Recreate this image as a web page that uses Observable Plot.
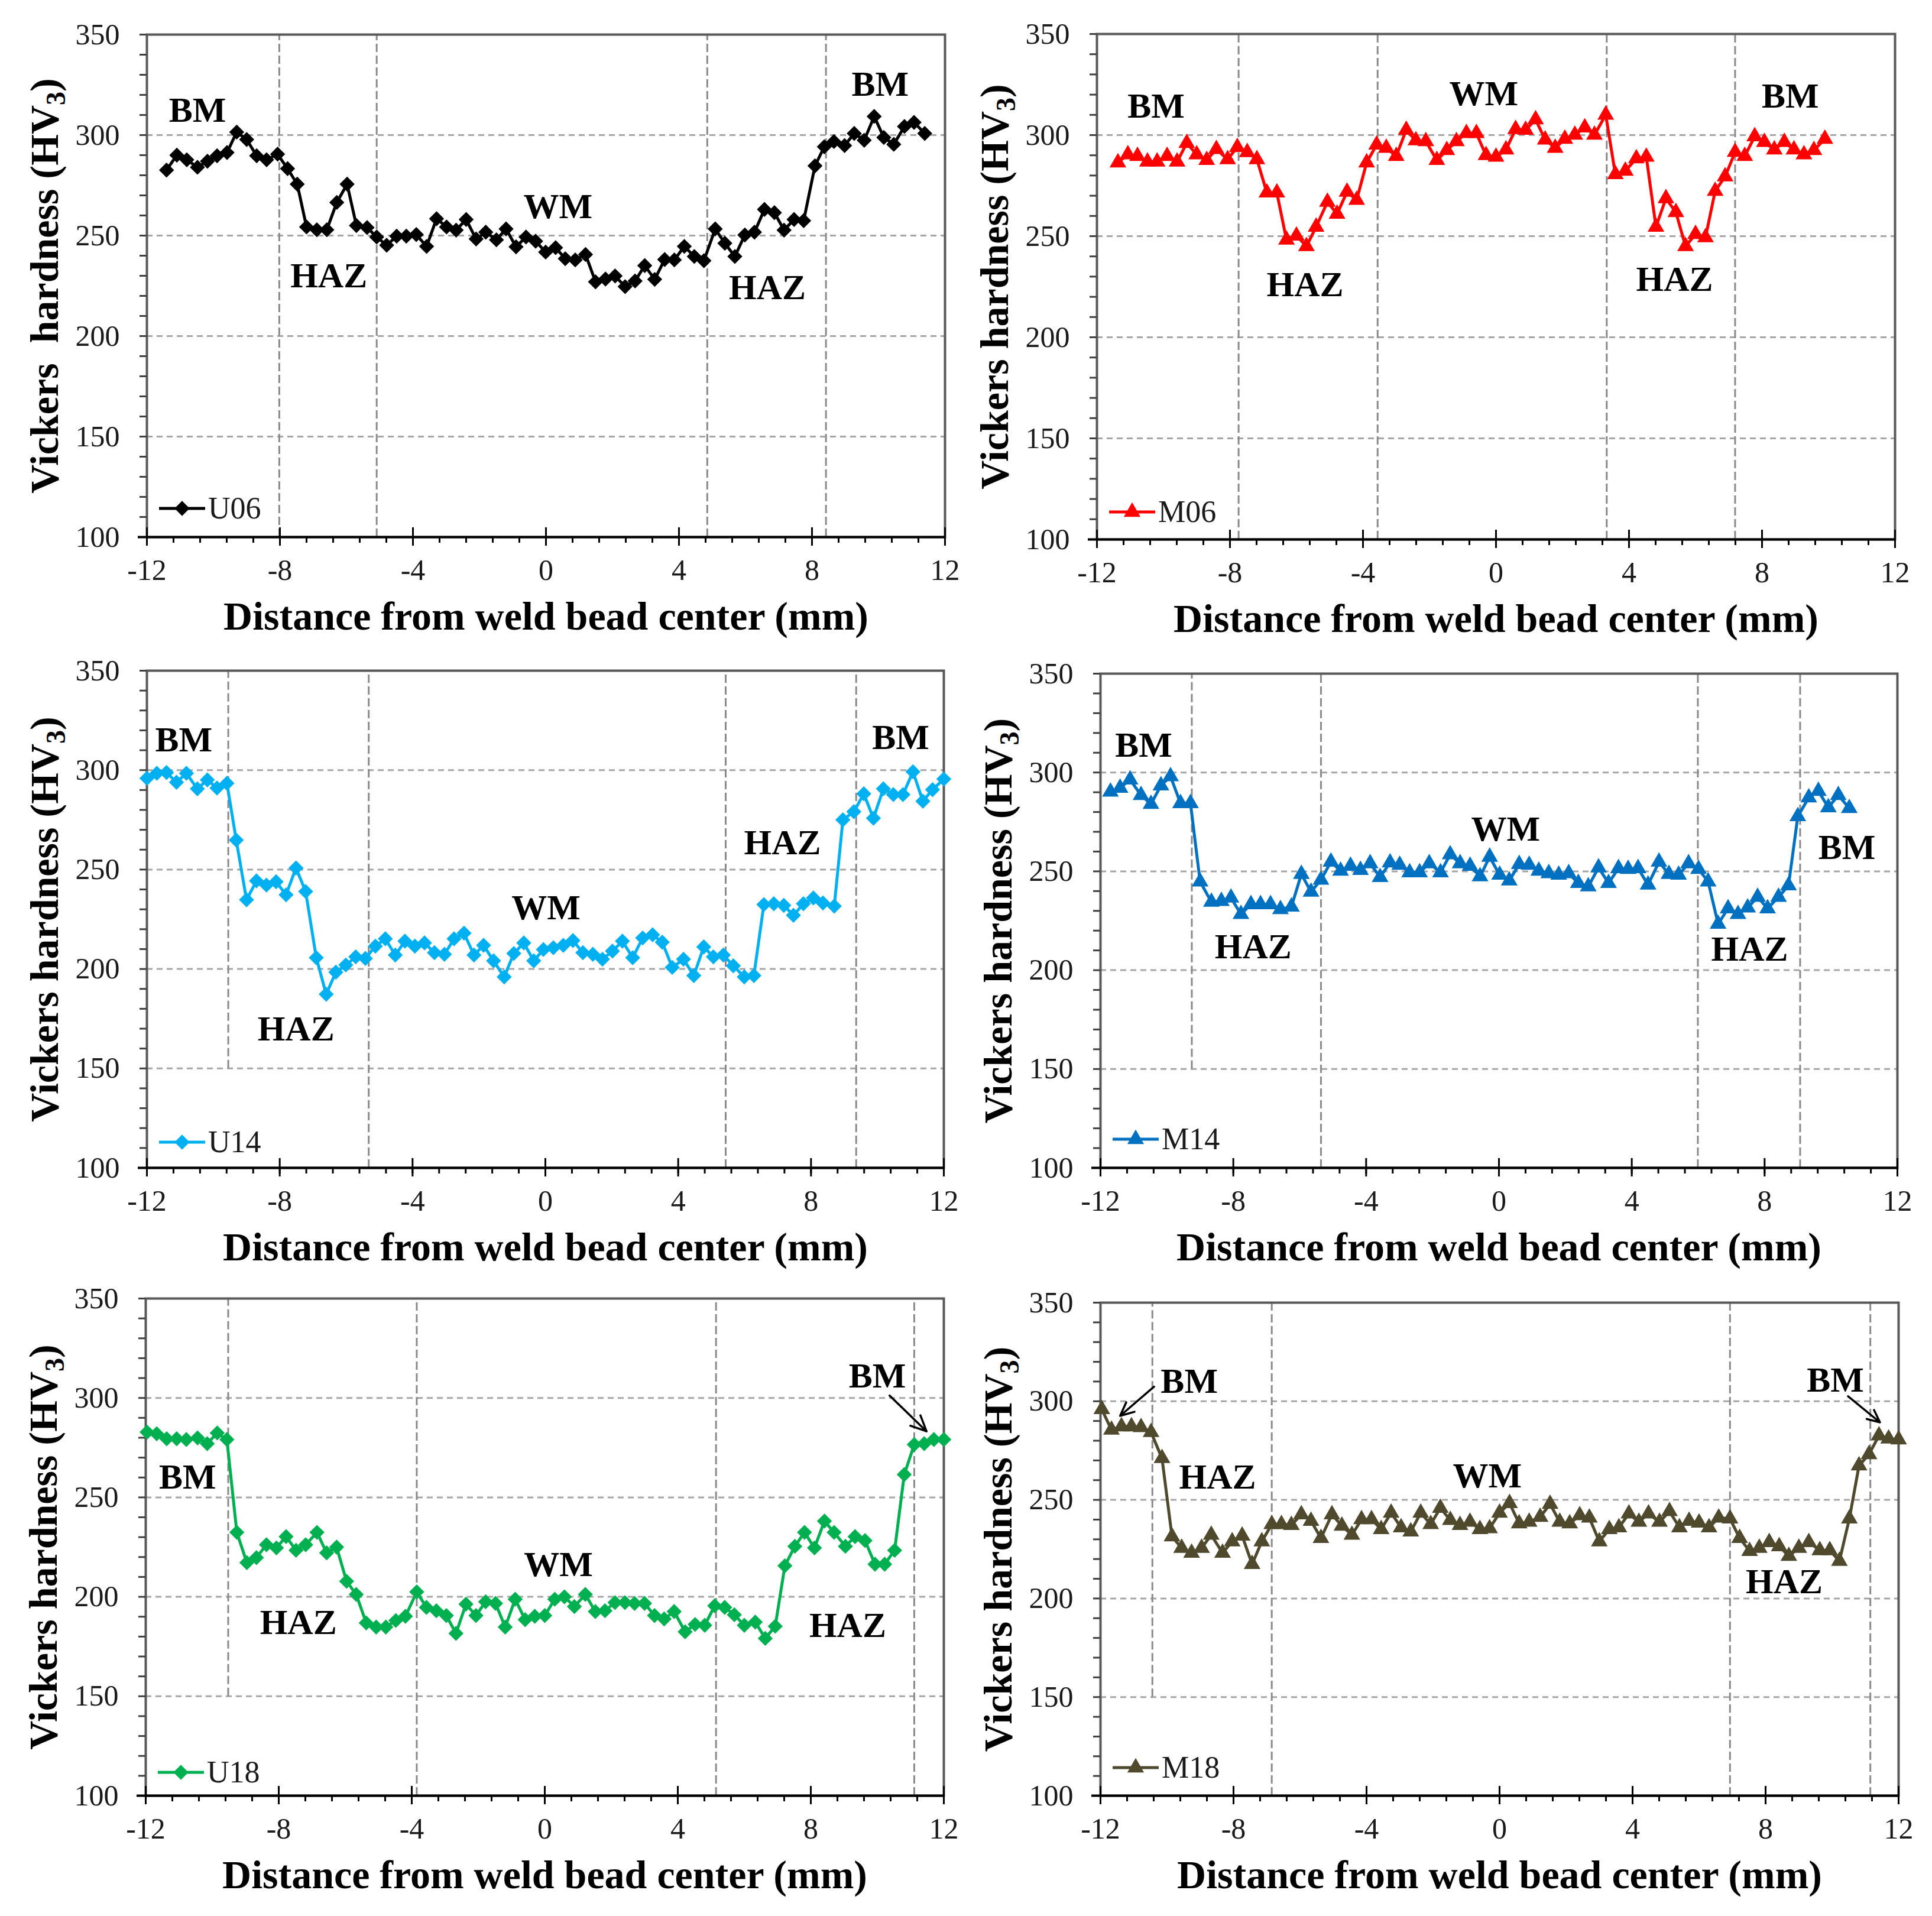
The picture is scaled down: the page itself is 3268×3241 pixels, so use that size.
<!DOCTYPE html>
<html>
<head>
<meta charset="utf-8">
<script src="https://cdn.jsdelivr.net/npm/d3@7"></script>
<script src="https://cdn.jsdelivr.net/npm/@observablehq/plot@0.6"></script>
<style>
html, body { margin: 0; padding: 0; background: #fff; }
#page { position: relative; width: 3268px; height: 3241px; overflow: hidden; background: #fff; }
.panel { position: absolute; }
</style>
</head>
<body>
<div id="page"></div>
<script>
// ---------------- data ----------------
const xMajorTicks = [-12, -8, -4, 0, 4, 8, 12];
const yMajorTicks = [100, 150, 200, 250, 300, 350];
const yGridLines = [150, 200, 250, 300];
const xTitle = "Distance from weld bead center (mm)";

const u06Points = [[-11.41,282.6],[-11.1,290],[-10.8,287.7],[-10.48,284],[-10.18,287],[-9.89,289.7],[-9.59,291.3],[-9.3,301.5],[-9.0,297.8],[-8.7,289.7],[-8.4,287.7],[-8.07,290.5],[-7.77,283.3],[-7.48,275.6],[-7.2,254.3],[-6.89,252.9],[-6.59,252.9],[-6.29,266.5],[-5.98,275.6],[-5.7,255],[-5.38,254],[-5.09,249.3],[-4.79,245.2],[-4.49,249.7],[-4.2,249.7],[-3.9,250.5],[-3.59,244.6],[-3.29,258.4],[-2.99,254.3],[-2.7,252.7],[-2.4,258],[-2.1,248.3],[-1.81,251.7],[-1.49,247.9],[-1.2,253.3],[-0.9,244.4],[-0.6,249.3],[-0.31,247.2],[-0.01,241.8],[0.29,244],[0.58,238.5],[0.88,237.9],[1.19,240.6],[1.49,227],[1.79,228.4],[2.08,229.9],[2.38,224.6],[2.68,227.4],[2.97,235.1],[3.27,228.2],[3.57,238.1],[3.86,237.9],[4.16,244.6],[4.46,239.6],[4.75,237.5],[5.09,253.3],[5.38,246.2],[5.68,239.6],[5.98,250.3],[6.27,251.7],[6.57,263],[6.87,261.4],[7.16,252.7],[7.46,258],[7.75,257.4],[8.09,284.7],[8.37,294.2],[8.66,296.8],[8.98,294.8],[9.27,300.8],[9.57,297.4],[9.87,309.3],[10.16,298.8],[10.46,295.4],[10.78,304.3],[11.07,306.3],[11.39,300.8]];
const m06Points = [[-11.37,286.4],[-11.07,290.4],[-10.78,289.6],[-10.48,286.8],[-10.19,286.8],[-9.89,289.6],[-9.59,286.8],[-9.3,296],[-9.0,290.4],[-8.7,287.6],[-8.41,293],[-8.07,288],[-7.78,294],[-7.48,291.5],[-7.19,288],[-6.89,271.5],[-6.59,271.5],[-6.3,248.2],[-6.0,250.2],[-5.7,245],[-5.41,254.6],[-5.07,266.9],[-4.78,261],[-4.48,271.9],[-4.19,267.9],[-3.89,286.4],[-3.59,295.2],[-3.3,293.6],[-3.0,289.6],[-2.7,302.5],[-2.41,297.3],[-2.11,296.9],[-1.78,287.6],[-1.48,292.5],[-1.19,296.9],[-0.89,300.9],[-0.59,300.9],[-0.3,290],[0.0,289.2],[0.3,292.8],[0.59,302.9],[0.89,302.5],[1.19,307.7],[1.48,297.7],[1.78,293.6],[2.07,298.1],[2.37,300.1],[2.67,303.7],[2.96,300.1],[3.3,310],[3.59,280.6],[3.89,282.3],[4.22,288.4],[4.52,289.2],[4.81,254.6],[5.11,268.7],[5.41,261.8],[5.7,245],[6.0,251],[6.3,249.4],[6.59,272.3],[6.89,279.5],[7.19,291.6],[7.48,289.6],[7.78,299.3],[8.07,296.5],[8.37,292.8],[8.67,296.5],[8.96,292.8],[9.26,290.4],[9.56,292.5],[9.89,298.1]];
const u14Points = [[-12.0,295.9],[-11.7,298.4],[-11.41,298.8],[-11.11,293.9],[-10.81,298.4],[-10.48,290.6],[-10.18,295.1],[-9.89,291],[-9.59,293.4],[-9.31,264.8],[-9.0,234.8],[-8.7,244.3],[-8.4,242.2],[-8.11,243.9],[-7.81,237.3],[-7.51,250.8],[-7.22,239],[-6.9,205.7],[-6.6,187.3],[-6.31,198.4],[-6.01,202],[-5.71,206.1],[-5.42,205.3],[-5.12,211.5],[-4.82,215.2],[-4.52,207],[-4.23,214],[-3.93,211.5],[-3.64,213.1],[-3.34,208.2],[-3.04,207.4],[-2.75,215.2],[-2.45,218],[-2.15,207],[-1.86,211.9],[-1.56,204.1],[-1.24,196],[-0.95,207.8],[-0.65,213.1],[-0.35,204.1],[-0.06,209.8],[0.24,210.7],[0.54,211.9],[0.83,214.3],[1.13,208.2],[1.43,207.4],[1.72,204.9],[2.02,209],[2.32,214],[2.63,205.7],[2.93,215.6],[3.23,217.2],[3.52,213.5],[3.82,200.8],[4.16,204.9],[4.47,196.7],[4.77,211.1],[5.06,206.1],[5.36,207],[5.66,201.6],[5.99,196],[6.28,196.7],[6.58,232.4],[6.88,232.8],[7.18,232],[7.47,227],[7.77,232.8],[8.07,235.7],[8.36,233.2],[8.7,231.6],[8.96,275],[9.29,279.1],[9.59,288.1],[9.88,275.8],[10.18,290.6],[10.48,287.7],[10.77,287.7],[11.07,299.2],[11.37,284.4],[11.66,290.2],[12.0,295.5]];
const m14Points = [[-11.7,290.2],[-11.41,292.2],[-11.11,296.4],[-10.78,288.5],[-10.48,284],[-10.18,293.4],[-9.89,298],[-9.59,284.4],[-9.29,284.4],[-9.0,244.8],[-8.66,234.5],[-8.36,234.9],[-8.07,236.6],[-7.77,228.3],[-7.47,233.3],[-7.18,233.3],[-6.88,233.3],[-6.58,230.8],[-6.25,232.1],[-5.95,248.6],[-5.66,239.6],[-5.36,245.7],[-5.06,254.8],[-4.77,250.2],[-4.47,252.7],[-4.17,250.6],[-3.88,254],[-3.58,247],[-3.28,254.4],[-2.99,253.2],[-2.69,249.4],[-2.39,249.4],[-2.1,254],[-1.76,249.4],[-1.47,258.5],[-1.17,254],[-0.87,252.7],[-0.57,247.4],[-0.28,257.3],[0.02,248.2],[0.31,245.3],[0.61,253.6],[0.91,253.2],[1.2,250.2],[1.5,249],[1.8,248.2],[2.1,249],[2.39,244],[2.69,242.3],[3.0,251.9],[3.3,244],[3.6,251.5],[3.89,251.1],[4.19,251.5],[4.49,243.2],[4.82,254.8],[5.12,248.6],[5.41,248.2],[5.71,254],[6.01,251.1],[6.3,244.8],[6.6,223.4],[6.9,231.2],[7.2,228.3],[7.49,231.6],[7.79,237],[8.09,231.2],[8.42,237],[8.72,242.8],[9.0,277.8],[9.33,287.3],[9.62,290.6],[9.92,282.3],[10.22,288.5],[10.55,281.9]];
const u18Points = [[-11.96,282.8],[-11.67,282],[-11.37,279.5],[-11.07,279.5],[-10.78,279.1],[-10.44,279.9],[-10.15,277],[-9.85,282.4],[-9.56,279.1],[-9.26,232.4],[-8.96,217.2],[-8.67,219.7],[-8.37,226.2],[-8.07,224.6],[-7.78,230.3],[-7.48,223.4],[-7.19,226.2],[-6.85,232.4],[-6.56,222.1],[-6.26,225],[-5.96,207.8],[-5.67,201.2],[-5.37,186.9],[-5.07,184.8],[-4.78,184.8],[-4.48,188.1],[-4.19,190.2],[-3.85,202.5],[-3.56,194.7],[-3.26,193],[-2.96,190.6],[-2.67,181.6],[-2.37,196.3],[-2.07,190.6],[-1.78,197.5],[-1.48,196.7],[-1.19,184.8],[-0.89,198.8],[-0.59,188.5],[-0.3,190.2],[0.0,190.6],[0.3,198.8],[0.59,200],[0.89,195.1],[1.22,201.2],[1.52,192.6],[1.81,193],[2.11,197.1],[2.41,197.1],[2.7,196.7],[3.0,196.7],[3.3,190.6],[3.59,188.9],[3.89,192.6],[4.22,182.4],[4.52,186.1],[4.81,185.7],[5.11,195.5],[5.41,194.7],[5.7,191],[6.0,185.7],[6.33,187.3],[6.63,179.1],[6.93,185.2],[7.22,215.6],[7.52,225.4],[7.81,232.4],[8.11,224.6],[8.41,238.1],[8.7,232.4],[9.04,225.4],[9.33,230.3],[9.63,228.3],[9.93,216.4],[10.22,216.4],[10.52,223.4],[10.81,261.5],[11.11,276.6],[11.41,277],[11.7,279.1],[12.0,279.1]];
const m18Points = [[-11.96,295.9],[-11.67,285.5],[-11.37,287.2],[-11.07,287.2],[-10.78,286.8],[-10.48,284.3],[-10.15,271.1],[-9.85,231.4],[-9.56,225.6],[-9.26,223.1],[-8.96,225.6],[-8.67,232.2],[-8.33,223.1],[-8.04,228.9],[-7.74,231.8],[-7.44,217.4],[-7.15,228.9],[-6.85,237.6],[-6.56,237.6],[-6.26,237.2],[-5.96,242.6],[-5.67,239.3],[-5.37,230.6],[-5.04,242.6],[-4.74,236.8],[-4.44,232.2],[-4.15,240.1],[-3.85,240.1],[-3.56,235.1],[-3.26,243.4],[-2.96,236],[-2.67,233.9],[-2.37,243.4],[-2.07,237.6],[-1.78,245.9],[-1.48,239.7],[-1.19,237.2],[-0.89,238.8],[-0.59,235.1],[-0.3,235.5],[0.0,243.4],[0.3,248.3],[0.59,238],[0.89,238.8],[1.22,241.3],[1.52,247.9],[1.81,238.8],[2.11,238],[2.41,242.1],[2.7,240.9],[3.0,228.9],[3.3,235.1],[3.59,236],[3.89,243],[4.19,238.8],[4.48,243],[4.81,238.8],[5.11,244.2],[5.41,236],[5.7,239.3],[6.0,238.4],[6.3,236],[6.59,240.9],[6.93,240.5],[7.22,230.6],[7.52,224],[7.81,225.6],[8.11,228.5],[8.41,226.4],[8.7,221.5],[9.0,225.6],[9.3,228.5],[9.63,224.4],[9.93,224.4],[10.22,219],[10.52,240.5],[10.81,267.4],[11.11,273.1],[11.41,282.6],[11.7,281],[12.0,280.6]];

// zone boundaries: [x, lower end of the dashed line]
const u06Zones = [[-8.02,100],[-5.09,100],[4.85,100],[8.42,100]];
const m06Zones = [[-7.74,100],[-3.56,100],[3.33,100],[7.19,100]];
const u14Zones = [[-9.55,150],[-5.32,100],[5.43,100],[9.36,100]];
const m14Zones = [[-9.25,150],[-5.36,100],[5.99,100],[9.07,100]];
const u18Zones = [[-9.52,150],[-3.85,100],[5.15,100],[11.11,100]];
const m18Zones = [[-10.44,150],[-6.85,100],[6.93,100],[11.15,100]];

// region annotations
const u06Labels = [["BM",-10.48,312.4],["HAZ",-6.53,230],["WM",0.36,264.4],["HAZ",6.66,224],["BM",10.05,325.1]];
const m06Labels = [["BM",-10.22,314.2],["HAZ",-5.74,225.8],["WM",-0.37,320.4],["HAZ",5.37,228.6],["BM",8.85,319.2]];
const u14Labels = [["BM",-10.89,315],["HAZ",-7.51,169.7],["WM",0.02,230.7],["HAZ",7.14,263.5],["BM",10.7,316.4]];
const m14Labels = [["BM",-10.7,313.7],["HAZ",-7.4,211.8],["WM",0.2,271.2],["HAZ",7.55,210.6],["BM",10.48,262.1]];
const u18Labels = [["BM",-10.74,260.2],["HAZ",-7.41,186.9],["WM",0.41,216.2],["HAZ",9.11,185.5],["BM",10.0,311]];
const m18Labels = [["BM",-9.33,309.9],["HAZ",-8.48,261.6],["WM",-0.37,262],["HAZ",8.56,208.3],["BM",10.1,310.7]];
const u18Arrows = [[10.37,301.2,11.48,283.2]];
const m18Arrows = [[-10.39,307.4,-11.41,292.6],[10.48,302.5,11.44,289.3]];

// ---------------- layout / style ----------------
const FONT = '"Liberation Serif", "Times New Roman", Times, serif';
const panels = [
  {name:"U06", points:u06Points, color:"#000000", symbol:"diamond2", zones:u06Zones, labels:u06Labels, arrows:[],
   frame:{left:248,right:1598,top:58,bottom:908}, legendUp:48, yTitle:["Vickers  hardness (HV","3",")"]},
  {name:"M06", points:m06Points, color:"#ff0000", symbol:"triangle", zones:m06Zones, labels:m06Labels, arrows:[],
   frame:{left:1855,right:3205,top:57,bottom:912}, legendUp:46, yTitle:["Vickers hardness (HV","3",")"]},
  {name:"U14", points:u14Points, color:"#00b0f0", symbol:"diamond2", zones:u14Zones, labels:u14Labels, arrows:[],
   frame:{left:248,right:1596,top:1134,bottom:1975}, legendUp:43, yTitle:["Vickers hardness (HV","3",")"]},
  {name:"M14", points:m14Points, color:"#0070c0", symbol:"triangle", zones:m14Zones, labels:m14Labels, arrows:[],
   frame:{left:1861,right:3209,top:1139,bottom:1975}, legendUp:48, yTitle:["Vickers hardness (HV","3",")"]},
  {name:"U18", points:u18Points, color:"#00b050", symbol:"diamond2", zones:u18Zones, labels:u18Labels, arrows:u18Arrows,
   frame:{left:246,right:1596,top:2196,bottom:3037}, legendUp:39, yTitle:["Vickers hardness (HV","3",")"]},
  {name:"M18", points:m18Points, color:"#4f4a2d", symbol:"triangle", zones:m18Zones, labels:m18Labels, arrows:m18Arrows,
   frame:{left:1861,right:3211,top:2203,bottom:3037}, legendUp:47, yTitle:["Vickers hardness (HV","3",")"]}
];

const markerR = sym => sym === "triangle" ? 9.5 : 10.5;
const yMinorTicks = d3.range(100, 351, 10);
const xMinorTicks = d3.range(0, 31).map(k => Math.round((-12 + k * 0.8) * 100) / 100);

function legendMark(p) {
  return (index, scales, values, dims) => {
    const g = d3.create("svg:g");
    const x0 = dims.marginLeft + 21;
    const y0 = dims.height - dims.marginBottom - p.legendUp;
    g.append("line").attr("x1", x0).attr("x2", x0 + 78).attr("y1", y0).attr("y2", y0)
      .attr("stroke", p.color).attr("stroke-width", 5);
    const sym = p.symbol === "triangle" ? d3.symbolTriangle : d3.symbolDiamond2;
    const r = markerR(p.symbol);
    g.append("path").attr("d", d3.symbol(sym, Math.PI * r * r)())
      .attr("transform", `translate(${x0 + 39},${y0})`).attr("fill", p.color).attr("stroke", p.color).attr("stroke-width", 1.5);
    g.append("text").attr("x", x0 + 83).attr("y", y0 + 17).attr("text-anchor", "start")
      .attr("font-size", 52).attr("font-family", FONT).attr("fill", "#1a1a1a").text(p.name);
    return g.node();
  };
}

function drawPanel(p) {
  const f = p.frame;
  const fw = f.right - f.left, fh = f.bottom - f.top;
  const mL = 240, mR = 30, mT = 50, mB = 200;
  const data = p.points.map(([x, y]) => ({x, y}));
  const zones = p.zones.map(([x, bottom]) => ({x, bottom, top: 350}));
  const labels = p.labels.map(([text, x, y]) => ({text, x, y}));
  const arrows = p.arrows.map(([x1, y1, x2, y2]) => ({x1, y1, x2, y2}));
  const yTitleText = p.yTitle.join("");

  const svg = Plot.plot({
    width: fw + mL + mR,
    height: fh + mT + mB,
    marginLeft: mL, marginRight: mR, marginTop: mT, marginBottom: mB,
    x: {domain: [-12, 12], label: null},
    y: {domain: [100, 350], label: null},
    style: {fontFamily: FONT, background: "transparent", maxWidth: "none", overflow: "visible"},
    marks: [
      Plot.ruleY(yGridLines, {stroke: "#a6a6a6", strokeWidth: 3, strokeDasharray: "10,7"}),
      Plot.ruleX(zones, {x: "x", y1: "bottom", y2: "top", stroke: "#8a8a8a", strokeWidth: 3, strokeDasharray: "14,6"}),
      Plot.frame({stroke: "#595959", strokeWidth: 4}),
      Plot.axisY({ticks: yMinorTicks, tickFormat: d => yMajorTicks.includes(d) ? String(d) : "",
        tickSize: 12, tickPadding: 34, fontSize: 50, stroke: "#404040", strokeWidth: 3, fill: "#1a1a1a", label: null}),
      Plot.axisX({ticks: xMinorTicks, tickFormat: () => "", tickSize: 10, stroke: "#000", strokeWidth: 3, label: null}),
      Plot.axisX({ticks: xMajorTicks, tickFormat: d => String(d), tickSize: 15, tickPadding: 22,
        fontSize: 50, stroke: "#000", strokeWidth: 3, fill: "#1a1a1a", label: null}),
      Plot.tickX(xMajorTicks, {x: d => d, insetTop: fh - 16, stroke: "#000", strokeWidth: 3}),
      Plot.ruleY([100], {stroke: "#000", strokeWidth: 4, insetLeft: -15}),
      Plot.line(data, {x: "x", y: "y", stroke: p.color, strokeWidth: 5}),
      Plot.dot(data, {x: "x", y: "y", symbol: p.symbol, r: markerR(p.symbol), fill: p.color, stroke: p.color, strokeWidth: 1.5}),
      Plot.text(labels, {x: "x", y: "y", text: "text", fontSize: 60, fontWeight: "bold", fill: "#000", lineAnchor: "middle"}),
      Plot.arrow(arrows, {x1: "x1", y1: "y1", x2: "x2", y2: "y2", stroke: "#000", strokeWidth: 3.5, headLength: 26, headAngle: 50}),
      Plot.text([xTitle], {text: d => d, frameAnchor: "bottom", dy: 135, fontSize: 68, fontWeight: "bold", fill: "#000", lineAnchor: "middle", textAnchor: "middle"}),
      Plot.text([yTitleText], {text: d => d, frameAnchor: "left", dx: -172, rotate: -90, fontSize: 68, fontWeight: "bold", fill: "#000", lineAnchor: "middle", textAnchor: "middle"}),
      legendMark(p)
    ]
  });

  // subscript in the y-axis title
  d3.select(svg).selectAll("text").filter(function() { return this.textContent === yTitleText; }).each(function() {
    const t = d3.select(this);
    t.text(null).style("white-space", "pre");
    t.append("tspan").text(p.yTitle[0]);
    t.append("tspan").attr("font-size", 46).attr("dy", 12).text(p.yTitle[1]);
    t.append("tspan").attr("dy", -12).text(p.yTitle[2]);
  });

  const div = document.createElement("div");
  div.className = "panel";
  div.style.left = (f.left - mL) + "px";
  div.style.top = (f.top - mT) + "px";
  div.style.width = (fw + mL + mR) + "px";
  div.appendChild(svg);
  document.getElementById("page").appendChild(div);
}

panels.forEach(drawPanel);
</script>
</body>
</html>
